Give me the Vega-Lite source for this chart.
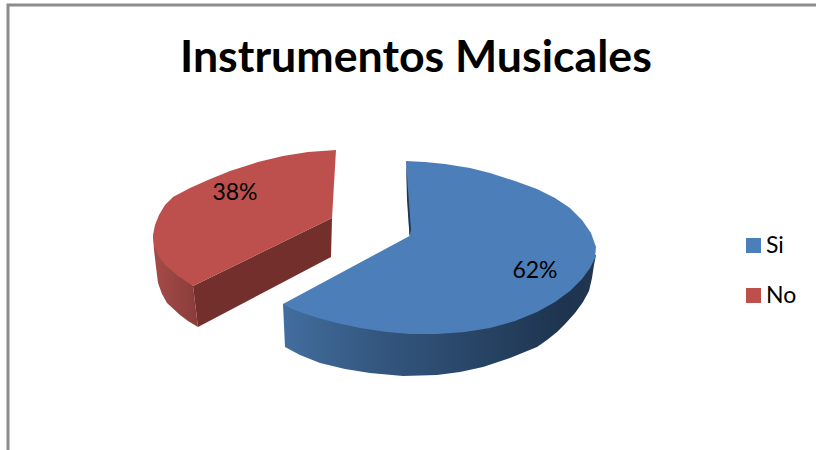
{
  "$schema": "https://vega.github.io/schema/vega-lite/v6.json",
  "width": 816,
  "height": 450,
  "padding": 0,
  "autosize": {"type": "none"},
  "background": "white",
  "view": {"stroke": null},
  "title": {
    "text": "Instrumentos Musicales",
    "anchor": "start",
    "frame": "group",
    "offset": 0,
    "dx": 180,
    "dy": 117,
    "baseline": "alphabetic",
    "font": "Lato",
    "fontWeight": "bold",
    "fontSize": 44.7,
    "color": "black"
  },
  "projection": {"type": "identity", "reflectY": true, "scale": 1, "translate": [408, 240]},
  "layer": [
    {
      "data": {"values": [
        {"type": "Feature", "properties": {"part": "frame"}, "geometry": {"type": "LineString", "coordinates": [[-400, -210], [-400, 235], [408, 235]]}}
      ]},
      "mark": {"type": "geoshape", "filled": false, "stroke": "#8c8c8c", "strokeWidth": 3}
    },
    {
      "data": {"values": [
        {"type": "Feature", "properties": {"part": "No outer wall"}, "geometry": {"type": "Polygon", "coordinates": [[[-255, 5], [-215, -46], [-210, -87], [-220, -81], [-228, -75], [-241, -63], [-246, -54], [-250, -43], [-252, -27], [-254, -10], [-255, 5]]]}}
      ]},
      "mark": {"type": "geoshape", "stroke": null, "fill": {"gradient": "linear", "x1": 0, "y1": 0, "x2": 1, "y2": 0, "stops": [{"offset": 0, "color": "#a54c49"}, {"offset": 1, "color": "#8a3c3a"}]}}
    },
    {
      "data": {"values": [
        {"type": "Feature", "properties": {"part": "No cut face"}, "geometry": {"type": "Polygon", "coordinates": [[[-215, -46], [-76, 22], [-77, -17], [-210, -87], [-215, -46]]]}}
      ]},
      "mark": {"type": "geoshape", "stroke": null, "fill": "#722f2c"}
    },
    {
      "data": {"values": [
        {"type": "Feature", "properties": {"part": "Si outer wall"}, "geometry": {"type": "Polygon", "coordinates": [[[-125, -64], [-123, -107], [-108, -115], [-88, -123], [-63, -129], [-38, -133], [-5, -136], [29, -135], [52, -132], [75, -127], [102, -118], [129, -107], [139, -100], [149, -92], [158, -83], [167, -73], [175, -62], [181, -51], [184, -38], [186, -25], [188, -15], [29, -50], [-125, -64]]]}}
      ]},
      "mark": {"type": "geoshape", "stroke": null, "fill": {"gradient": "linear", "x1": 0, "y1": 0, "x2": 1, "y2": 0, "stops": [{"offset": 0, "color": "#426e9f"}, {"offset": 0.3, "color": "#34577f"}, {"offset": 0.7, "color": "#25405f"}, {"offset": 0.9, "color": "#1e334e"}, {"offset": 1, "color": "#213750"}]}}
    },
    {
      "data": {"values": [
        {"type": "Feature", "properties": {"category": "Si", "share": 0.62}, "geometry": {"type": "Polygon", "coordinates": [[[-2, 79], [17, 78], [37, 76], [62, 72], [82, 67], [107, 59], [129, 51], [147, 42], [162, 32], [174, 20], [183, 7], [188, -7], [187, -18], [182, -28], [174, -39], [162, -51], [147, -62], [129, -72], [107, -81], [82, -88], [57, -92], [29, -94], [2, -94], [-21, -92], [-48, -88], [-71, -83], [-90, -78], [-105, -73], [-116, -69], [-125, -64], [1.5, 4], [-2, 79]]]}},
        {"type": "Feature", "properties": {"category": "No", "share": 0.38}, "geometry": {"type": "Polygon", "coordinates": [[[-72, 90], [-100, 88], [-125, 84], [-150, 78], [-178, 69], [-200, 60], [-218, 52], [-235, 43], [-243, 35], [-249, 25], [-253, 15], [-255, 5], [-254, -5], [-250, -15], [-243, -25], [-230, -36], [-215, -46], [-76, 22], [-72, 90]]]}}
      ]},
      "mark": {"type": "geoshape", "stroke": null},
      "encoding": {
        "color": {
          "field": "properties.category",
          "type": "nominal",
          "scale": {"domain": ["Si", "No"], "range": ["#4c7eba", "#bd4f4c"]},
          "legend": {
            "title": null,
            "orient": "none",
            "legendX": 742,
            "legendY": 234,
            "symbolType": "square",
            "symbolSize": 225,
            "symbolStrokeWidth": 0,
            "symbolOpacity": 1,
            "labelFont": "Lato",
            "labelFontSize": 23,
            "labelColor": "black",
            "labelOffset": 1,
            "rowPadding": 26
          }
        }
      }
    },
    {
      "data": {"values": [
        {"type": "Feature", "properties": {"part": "Si inner wall"}, "geometry": {"type": "Polygon", "coordinates": [[[-2, 79], [0, 50], [3, 10], [1.5, 4], [-1, 40], [-2, 79]]]}}
      ]},
      "mark": {"type": "geoshape", "stroke": null, "fill": "#1f3550"}
    },
    {
      "data": {"values": [
        {"category": "Si", "share": 0.62, "lon": 127, "lat": -31},
        {"category": "No", "share": 0.38, "lon": -173, "lat": 47}
      ]},
      "mark": {"type": "text", "font": "Lato", "fontSize": 23, "baseline": "middle", "align": "center", "color": "black"},
      "encoding": {
        "longitude": {"field": "lon", "type": "quantitative"},
        "latitude": {"field": "lat", "type": "quantitative"},
        "text": {"field": "share", "type": "quantitative", "format": ".0%"}
      }
    }
  ]
}
